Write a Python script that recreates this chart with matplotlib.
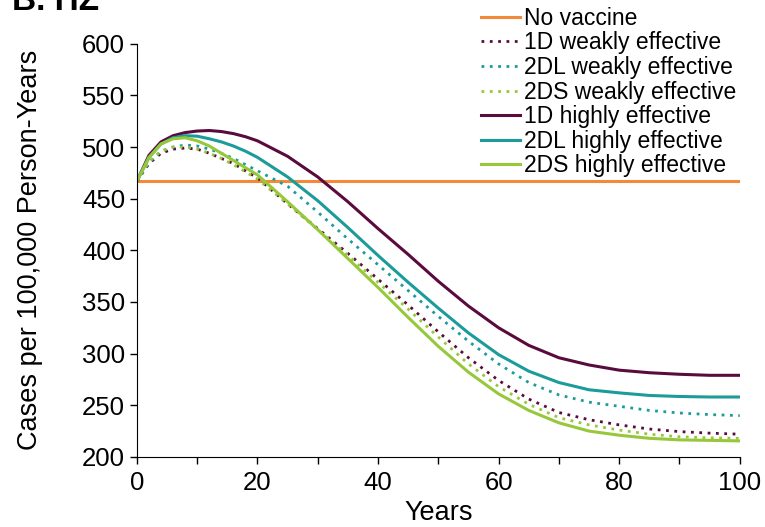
import numpy as np
import matplotlib
matplotlib.use("Agg")
import matplotlib.pyplot as plt
from matplotlib.ticker import MultipleLocator

plt.rcParams['font.family'] = ['Liberation Sans', 'DejaVu Sans']

# Years sampled along the curves
years = [0, 2, 4, 6, 8, 10, 12, 14, 16, 18, 20, 25, 30, 35, 40, 45,
         50, 55, 60, 65, 70, 75, 80, 85, 90, 95, 100]

no_vaccine = [467] * len(years)
d1_weak = [467, 484, 494, 498, 499, 498, 494, 489, 484, 477, 470, 445, 421,
           397, 372, 347, 321, 296, 274, 256, 243, 236, 231, 227, 224.5, 223, 222]
d2l_weak = [467, 485, 496, 500, 502, 501, 498, 494, 489, 483, 477, 462, 437,
            411, 386, 361, 336, 312, 290, 272, 260, 253, 249, 245, 242.5, 241, 240]
d2s_weak = [467, 486, 496, 500, 500, 498, 494, 489, 483, 476, 469, 445, 420,
            395, 369, 343, 316, 290, 268, 251, 238, 231, 226, 222, 219.5, 218.5, 218]
d1_high = [467, 492, 505, 511, 514, 515.5, 516, 515, 513, 510, 506, 491, 471,
           447, 421, 396, 370, 346, 325, 308, 296, 289, 284, 281.5, 280, 279, 279]
d2l_high = [467, 490, 503, 509, 511, 510.5, 508, 505, 501, 496, 490, 471, 448,
            422, 395, 369, 344, 320, 299, 283, 272, 265, 262, 259.5, 258.5, 258, 258]
d2s_high = [467, 490, 503, 508, 509, 506, 501, 494, 487, 480, 473, 447, 420,
            392, 364, 335, 307, 282, 261, 245, 233, 225, 221, 218, 216.5, 216, 215.5]

orange = "#F28A3A"
purple = "#5A0B3D"
teal = "#1C9B9B"
green = "#97C83C"
dots = (0, (1, 2))

fig = plt.figure(figsize=(7.65, 5.27), dpi=100)
ax = fig.add_axes([0.179, 0.133, 0.788, 0.784])

ax.plot(years, no_vaccine, color=orange, lw=2.2, label="No vaccine")
ax.plot(years, d1_weak, color=purple, lw=2.0, ls=dots, label="1D weakly effective")
ax.plot(years, d2l_weak, color=teal, lw=2.0, ls=dots, label="2DL weakly effective")
ax.plot(years, d2s_weak, color=green, lw=2.0, ls=dots, label="2DS weakly effective")
ax.plot(years, d1_high, color=purple, lw=2.2, label="1D highly effective")
ax.plot(years, d2l_high, color=teal, lw=2.2, label="2DL highly effective")
ax.plot(years, d2s_high, color=green, lw=2.2, label="2DS highly effective")

ax.set_xlim(0, 100)
ax.set_ylim(200, 600)
ax.xaxis.set_major_locator(MultipleLocator(20))
ax.xaxis.set_minor_locator(MultipleLocator(10))
ax.yaxis.set_major_locator(MultipleLocator(50))
ax.tick_params(axis='both', which='both', direction='out', length=5, width=1,
               labelsize=18.5, color='black')
ax.tick_params(axis='x', pad=5)
ax.spines['top'].set_visible(False)
ax.spines['right'].set_visible(False)
ax.set_xlabel("Years", fontsize=19.5, labelpad=4)
ax.set_ylabel("Cases per 100,000 Person-Years", fontsize=19.5, labelpad=28)

fig.legend(loc='upper right', bbox_to_anchor=(0.963, 0.987), frameon=False,
           fontsize=16.5, handlelength=1.7, handletextpad=0.2, labelspacing=0.07,
           borderaxespad=0, borderpad=0)

fig.text(0.016, 1 - 10 / 527, "B. HZ", fontsize=24, fontweight='bold',
         va='baseline', ha='left')

fig.savefig("out.png", dpi=100)
